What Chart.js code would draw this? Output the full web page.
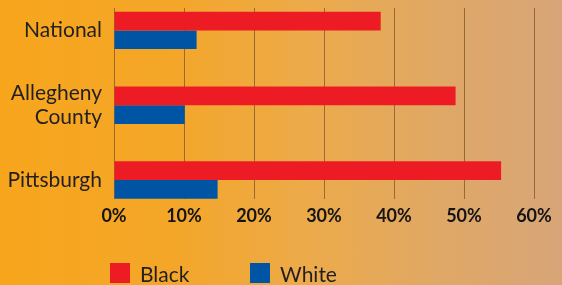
<!DOCTYPE html>
<html>
<head>
<meta charset="utf-8">
<script src="https://cdn.jsdelivr.net/npm/chart.js@4.4.1/dist/chart.umd.min.js"></script>
<style>
  html, body {
    margin: 0;
    padding: 0;
  }
  body {
    width: 562px;
    height: 285px;
    overflow: hidden;
    position: relative;
    background: linear-gradient(90deg, #f7a61c 0%, #f4a628 30%, #ecaa4a 55%, #e0a866 78%, #d7a578 100%);
    font-family: Lato, sans-serif;
  }
  #wrap {
    position: absolute;
    left: 0;
    top: 0;
    width: 562px;
    height: 285px;
  }
  #legend {
    position: absolute;
    left: 110px;
    top: 263px;
    display: flex;
    color: #231f20;
    font-size: 21px;
  }
  .item {
    display: flex;
    align-items: center;
    width: 140px;
    height: 20px;
  }
  .box {
    width: 20px;
    height: 20px;
    margin-right: 10px;
  }
</style>
</head>
<body>
<div id="wrap"><canvas id="myChart"></canvas></div>
<div id="legend"></div>
<script>
// values (percent)
const categories = ["National", ["Allegheny", "County"], "Pittsburgh"];
const blackShare = [38.1, 48.8, 55.3];
const whiteShare = [11.8, 10.1, 14.8];
const xTicks = [0, 10, 20, 30, 40, 50, 60];

const seriesNames = ["Black", "White"];
const seriesColors = ["#ed1c24", "#0054a4"];

// bars sit on a linear y axis so the grid can span only the plot band
const toPoints = (values) => values.map((v, i) => ({ x: v, y: i }));

const ctx = document.getElementById("myChart").getContext("2d");
const chart = new Chart(ctx, {
  type: "bar",
  data: {
    datasets: [
      {
        label: seriesNames[0],
        data: toPoints(blackShare),
        backgroundColor: seriesColors[0],
      },
      {
        label: seriesNames[1],
        data: toPoints(whiteShare),
        backgroundColor: seriesColors[1],
      },
    ],
  },
  options: {
    indexAxis: "y",
    responsive: false,
    animation: false,
    categoryPercentage: 0.5,
    barPercentage: 1,
    layout: {
      padding: { top: 8, right: 28, bottom: 48, left: 0 },
    },
    plugins: {
      legend: { display: false },
      tooltip: { enabled: false },
    },
    scales: {
      x: {
        type: "linear",
        min: xTicks[0],
        max: xTicks[xTicks.length - 1],
        afterBuildTicks: (scale) => {
          scale.ticks = xTicks.map((v) => ({ value: v }));
        },
        grid: {
          color: "rgba(118, 84, 40, 0.72)",
          lineWidth: 1,
          drawTicks: false,
        },
        border: { display: false },
        ticks: {
          padding: 6,
          color: "#141414",
          font: { family: "Lato", size: 18, weight: "bold" },
          callback: (v) => v + "%",
        },
      },
      y: {
        type: "linear",
        reverse: true,
        bounds: "data",
        offset: false,
        min: -0.3,
        max: 2.26,
        grid: { display: false, drawTicks: false, offset: false },
        border: { display: false },
        afterBuildTicks: (scale) => {
          scale.ticks = categories.map((c, i) => ({ value: i }));
        },
        afterFit: (scale) => {
          scale.width = 114;
          scale.paddingTop = 0;
          scale.paddingBottom = 0;
        },
        ticks: {
          autoSkip: false,
          padding: 12,
          color: "#231f20",
          font: { family: "Lato", size: 21, lineHeight: 1.15 },
          callback: (v) => (Number.isInteger(v) && categories[v] ? categories[v] : ""),
        },
      },
    },
  },
});
chart.canvas.style.width = "562px";
chart.canvas.style.height = "285px";
chart.resize(562, 285);

// legend built from the chart's datasets
const legend = document.getElementById("legend");
chart.data.datasets.forEach((ds) => {
  const item = document.createElement("div");
  item.className = "item";
  const box = document.createElement("span");
  box.className = "box";
  box.style.background = ds.backgroundColor;
  const text = document.createElement("span");
  text.textContent = ds.label;
  item.appendChild(box);
  item.appendChild(text);
  legend.appendChild(item);
});
</script>
</body>
</html>
